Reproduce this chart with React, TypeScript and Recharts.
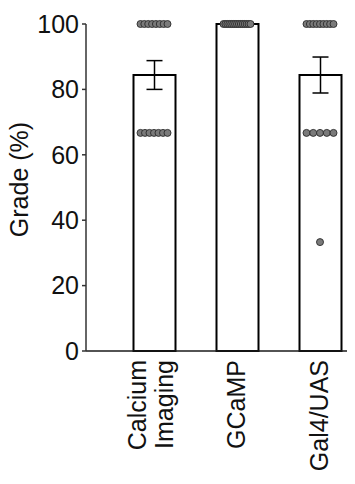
import { ComposedChart, Bar, Scatter, XAxis, YAxis, ErrorBar } from 'recharts';

const groups = ['Calcium Imaging', 'GCaMP', 'Gal4/UAS'];
const means = [84.4, 100, 84.4];
const sems = [4.4, 0, 5.5];
const yTicks = [0, 20, 40, 60, 80, 100];

// individual grades per group
const calciumScores = [100, 100, 100, 100, 100, 100, 100, 100, 66.7, 66.7, 66.7, 66.7, 66.7, 66.7, 66.7];
const gcampScores = [100, 100, 100, 100, 100, 100, 100, 100, 100, 100, 100, 100, 100, 100, 100];
const gal4Scores = [100, 100, 100, 100, 100, 100, 100, 100, 100, 66.7, 66.7, 66.7, 66.7, 66.7, 33.3];

const FONT = '"Liberation Sans", Arial, Helvetica, sans-serif';

const barData = groups.map((name, i) => ({ name, mean: means[i], sem: sems[i] }));

// spread dots of the same value side by side (-0.5..0.5 of the row width)
const dotData = [calciumScores, gcampScores, gal4Scores].flatMap((scores, g) =>
  scores.map((score, i) => {
    const row = scores.filter((s) => s === score).length;
    const rank = scores.slice(0, i).filter((s) => s === score).length;
    return { name: groups[g], score, spread: row > 1 ? rank / (row - 1) - 0.5 : 0 };
  })
);

const Dot = (props: any) => {
  const { cx, cy, payload } = props;
  if (cx == null || cy == null) return null;
  return <circle cx={cx + payload.spread * 27} cy={cy} r={3.5} fill="#7a7a7a" stroke="#2a2a2a" strokeWidth={0.9} />;
};

const XTick = (props: any) => {
  const { x, y, payload } = props;
  const lines = String(payload.value) === 'Calcium Imaging' ? ['Calcium', 'Imaging'] : [String(payload.value)];
  const first = lines.length > 1 ? -8 : 8;
  return (
    <g transform={`translate(${x},${y})`}>
      <text transform="rotate(-90)" textAnchor="end" fontSize={25} fontFamily={FONT} fill="#111">
        {lines.map((l, i) => (
          <tspan key={l} x={0} y={first + i * 27}>
            {l}
          </tspan>
        ))}
      </text>
    </g>
  );
};

const YLabel = (props: any) => {
  const { viewBox } = props;
  if (!viewBox) return null;
  const cy = viewBox.y + viewBox.height / 2 - 8;
  return (
    <text transform={`translate(28,${cy}) rotate(-90)`} textAnchor="middle" fontSize={25} fontFamily={FONT} fill="#111">
      Grade (%)
    </text>
  );
};

export default function App() {
  return (
    <div style={{ margin: '-8px 0 0 -8px', width: 355, height: 484 }}>
      <ComposedChart width={355} height={484} data={barData} margin={{ top: 24, right: 3, bottom: 0, left: 0 }}>
        <XAxis
          dataKey="name"
          type="category"
          allowDuplicatedCategory={false}
          padding={{ left: 26.5, right: -9.5 }}
          height={133}
          tickLine={false}
          tickSize={0}
          tickMargin={9}
          tick={<XTick />}
          interval={0}
          axisLine={{ stroke: '#1a1a1a', strokeWidth: 1.5 }}
        />
        <YAxis
          width={86}
          domain={[0, 100]}
          ticks={yTicks}
          interval={0}
          tickSize={4}
          tickMargin={3}
          tick={{ fontSize: 25, fontFamily: FONT, fill: '#111' }}
          tickLine={{ stroke: '#333', strokeWidth: 1.5 }}
          axisLine={{ stroke: '#333', strokeWidth: 1.5 }}
          label={<YLabel />}
        />
        <Bar dataKey="mean" barSize={42} fill="#fff" stroke="#000" strokeWidth={2} isAnimationActive={false}>
          <ErrorBar dataKey="sem" width={8} stroke="#000" strokeWidth={1.5} direction="y" />
        </Bar>
        <Scatter data={dotData} dataKey="score" shape={<Dot />} isAnimationActive={false} />
      </ComposedChart>
    </div>
  );
}
